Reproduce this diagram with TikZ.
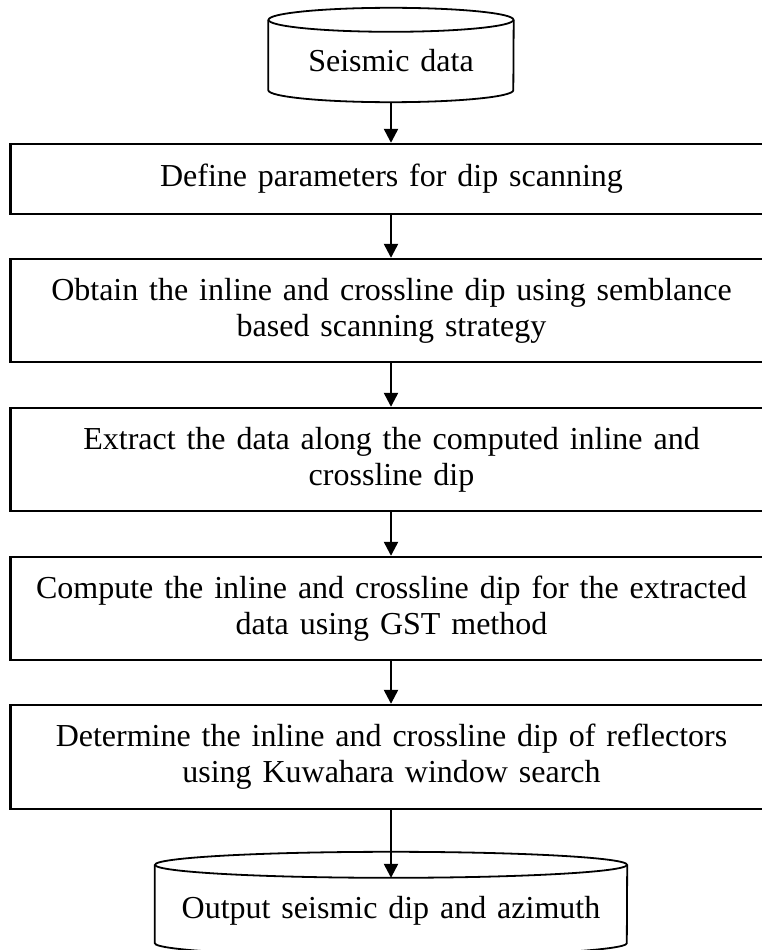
\documentclass[tikz,border=0pt]{standalone}
\usepackage{fontspec}
\setmainfont{Liberation Serif}
\usetikzlibrary{arrows.meta}
\newcommand{\flowfont}{\fontsize{32}{36}\selectfont\spaceskip=0.34em\relax}
\tikzset{
  procbox/.style={draw, line width=2.4pt, rectangle, minimum width=762pt, inner sep=0pt,
    align=center, font=\flowfont},
  cylbody/.style={rectangle, inner sep=0pt, align=center, font=\flowfont},
  cylline/.style={line width=1.8pt},
  flow/.style={line width=2.4pt, -{Triangle[width=14pt,length=14pt]}}
}
\begin{document}
\begin{tikzpicture}[x=1pt,y=1pt]
\path[use as bounding box, clip] (0,0) rectangle (762,-950);
% top cylinder
\node[cylbody, minimum width=245pt, minimum height=82pt] (c1) at (391,-61) {Seismic data};
\draw[cylline] (c1.north) ellipse [x radius=122.5pt, y radius=12pt];
\draw[cylline] (c1.north west) -- ([yshift=12pt]c1.south west)
  arc[start angle=180, end angle=360, x radius=122.5pt, y radius=12pt] -- (c1.north east);
% boxes
\node[procbox, minimum height=70pt] (b1) at (391.5,-179) {Define parameters for dip scanning};
\node[procbox, minimum height=103pt] (b2) at (391.5,-310.5) {Obtain the inline and crossline dip using semblance\\based scanning strategy};
\node[procbox, minimum height=103pt] (b3) at (391.5,-459.5) {Extract the data along the computed inline and\\crossline dip};
\node[procbox, minimum height=103pt] (b4) at (391.5,-608.5) {Compute the inline and crossline dip for the extracted\\data using GST method};
\node[procbox, minimum height=104pt] (b5) at (391.5,-757) {Determine the inline and crossline dip of reflectors\\using Kuwahara window search};
% bottom cylinder
\node[cylbody, minimum width=472pt, minimum height=91pt] (c2) at (391,-910.5) {Output seismic dip and azimuth};
\draw[cylline] (c2.north) ellipse [x radius=236pt, y radius=13pt];
\draw[cylline] (c2.north west) -- ([yshift=13pt]c2.south west)
  arc[start angle=180, end angle=360, x radius=236pt, y radius=13pt] -- (c2.north east);
% arrows
\draw[flow] (c1.south) -- (b1.north -| c1.south);
\draw[flow] (b1.south -| c1.south) -- (b2.north -| c1.south);
\draw[flow] (b2.south -| c1.south) -- (b3.north -| c1.south);
\draw[flow] (b3.south -| c1.south) -- (b4.north -| c1.south);
\draw[flow] (b4.south -| c1.south) -- (b5.north -| c1.south);
\draw[flow] (b5.south -| c1.south) -- ([yshift=-13pt]c2.north);
\end{tikzpicture}
\end{document}
